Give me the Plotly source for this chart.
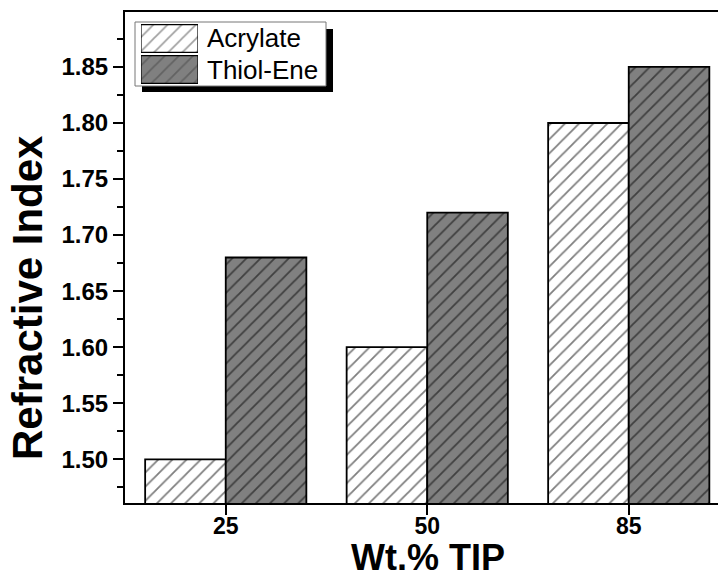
import plotly.graph_objects as go

# Refractive index of cured films vs. TIP loading
categories = ["25", "50", "85"]
acrylate = [1.50, 1.60, 1.80]
thiol_ene = [1.68, 1.72, 1.85]
series_names = ["Acrylate", "Thiol-Ene"]
y_ticks = [1.50, 1.55, 1.60, 1.65, 1.70, 1.75, 1.80, 1.85]

FONT = "Liberation Sans, Arial, sans-serif"
W, H = 718, 580
ML, MR, MT, MB = 125, 0, 12, 77
PW, PH = W - ML - MR, H - MT - MB


def px_x(x):
    return (x - ML) / PW


def px_y(y):
    return (H - MB - y) / PH


styles = {
    "Acrylate": "white",
    "Thiol-Ene": "#808080",
}


def pattern():
    return dict(shape="/", fgcolor="black", size=10, solidity=0.18, fillmode="overlay")


fig = go.Figure()
for name, vals in zip(series_names, [acrylate, thiol_ene]):
    fig.add_trace(go.Bar(
        x=categories, y=vals, name=name,
        marker=dict(color=styles[name], line=dict(color="black", width=1.8),
                    pattern=pattern()),
        showlegend=False,
    ))

# legend swatches on a small inset axis
fig.add_trace(go.Bar(
    x=[1, 1], y=["Thiol-Ene", "Acrylate"], orientation="h",
    marker=dict(color=[styles["Thiol-Ene"], styles["Acrylate"]],
                line=dict(color="black", width=1.2), pattern=pattern()),
    width=0.9, xaxis="x2", yaxis="y2", showlegend=False, hoverinfo="skip",
))

fig.update_layout(
    width=W, height=H,
    margin=dict(l=ML, r=MR, t=MT, b=MB, pad=0),
    paper_bgcolor="white", plot_bgcolor="white",
    barmode="group", bargap=0.2, bargroupgap=0,
    font=dict(family=FONT, color="black"),
    xaxis=dict(
        type="category", range=[-0.5, 2.443], domain=[0, 1],
        showline=True, linecolor="black", linewidth=2, mirror=True,
        ticks="outside", ticklen=10, tickwidth=1.5, tickcolor="black",
        tickfont=dict(size=23, weight="bold", family=FONT),
        ticklabelstandoff=-9,
        showgrid=False, zeroline=False,
    ),
    yaxis=dict(
        range=[1.461, 1.899], tickvals=y_ticks, tickformat=".2f",
        showline=True, linecolor="black", linewidth=2, mirror=False,
        ticks="outside", ticklen=10, tickwidth=1.5, tickcolor="black",
        minor=dict(ticks="outside", ticklen=6, tickwidth=1.5, tickcolor="black", dtick=0.025,
                   tick0=1.475, showgrid=False),
        tickfont=dict(size=24, weight="bold", family=FONT),
        showgrid=False, zeroline=False,
    ),
    xaxis2=dict(domain=[px_x(141), px_x(198)], range=[0, 1], anchor="y2",
                visible=False, fixedrange=True),
    yaxis2=dict(domain=[px_y(85), px_y(23)], anchor="x2", type="category",
                range=[-0.5, 1.5], visible=False, fixedrange=True),
)

# axis titles
fig.add_annotation(text="Wt.% TIP", xref="paper", yref="paper",
                   x=px_x(428), y=px_y(580), xanchor="center", yanchor="bottom",
                   showarrow=False, font=dict(size=36, weight="bold", family=FONT))
fig.add_annotation(text="Refractive Index", xref="paper", yref="paper",
                   x=px_x(28), y=px_y(298), xanchor="center", yanchor="middle",
                   textangle=-90, showarrow=False,
                   font=dict(size=42, weight="bold", family=FONT))

# legend frame with drop shadow
fig.add_shape(type="rect", xref="paper", yref="paper",
              x0=px_x(142), x1=px_x(333), y0=px_y(92), y1=px_y(29),
              fillcolor="black", line=dict(width=0), layer="below")
fig.add_shape(type="rect", xref="paper", yref="paper",
              x0=px_x(135), x1=px_x(326), y0=px_y(86), y1=px_y(22),
              fillcolor="white", line=dict(color="#777777", width=1), layer="below")

for name, ypx in zip(series_names, [38, 70]):
    fig.add_annotation(text=name, xref="paper", yref="paper",
                       x=px_x(205), y=px_y(ypx), xanchor="left", yanchor="middle",
                       showarrow=False, font=dict(size=26, family=FONT, color="black"))

fig.write_html("out.html")
